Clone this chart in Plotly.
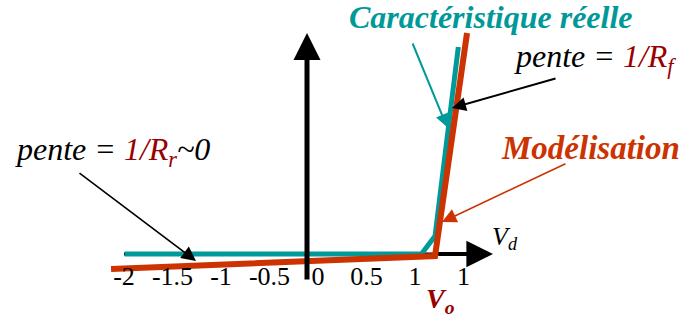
import plotly.graph_objects as go

# ---- data (x: Vd, y: Id in arbitrary units) ----
real_x = [-1.88, 1.18, 1.32, 1.56]      # caractéristique réelle
real_y = [0.0, 0.0, 0.36, 4.14]
model_x = [-2.02, 1.32, 1.65]           # modélisation
model_y = [-0.30, -0.04, 4.42]
tick_vals = [-2, -1.5, -1, -0.5, 0, 0.5, 1, 1.5]
tick_text = ["-2", "-1.5", "-1", "-0.5", "0", "0.5", "1", "1"]

# ---- styling / layout helpers ----
W, H = 694, 320
X0, Y0 = 307, 254      # pixel position of the origin
SX, SY = 97, 50        # pixels per unit
TEAL = "#009999"
ORANGE = "#CC3300"
DARKRED = "#990000"
FONT = "Liberation Serif"


def dx(px):
    return (px - X0) / SX


def dy(py):
    return (Y0 - py) / SY


def px_(px):
    return px / W


def py_(py):
    return 1 - py / H


fig = go.Figure()

# horizontal axis line under the curves
fig.add_trace(go.Scatter(x=[dx(124), dx(440)], y=[0, 0], mode="lines",
                         line=dict(color="black", width=3), hoverinfo="skip"))
fig.add_trace(go.Scatter(x=real_x, y=real_y, mode="lines",
                         line=dict(color=TEAL, width=5), hoverinfo="skip"))
fig.add_trace(go.Scatter(x=model_x, y=model_y, mode="lines",
                         line=dict(color=ORANGE, width=6), hoverinfo="skip"))

annotations = []


def arrow(tip, tail, color, width, size):
    annotations.append(dict(
        x=dx(tip[0]), y=dy(tip[1]), ax=dx(tail[0]), ay=dy(tail[1]),
        xref="x", yref="y", axref="x", ayref="y", text="",
        showarrow=True, arrowhead=2, arrowsize=size, arrowwidth=width,
        arrowcolor=color, standoff=0, startstandoff=0))


# axes arrows
arrow((307, 33), (307, 281), "black", 5, 1.08)
arrow((493, 254), (437, 254), "black", 4, 1.33)
# pointer arrows
arrow((447, 127), (412, 42), TEAL, 2, 1.3)
arrow((452, 108), (557, 78), "black", 2, 1.4)
arrow((442, 222), (567, 163), ORANGE, 1.6, 1.8)
arrow((196, 261), (78, 172), "black", 1.6, 1.8)


def label(text, cx, cy, size, color="black"):
    annotations.append(dict(
        x=px_(cx), y=py_(cy), xref="paper", yref="paper", text=text,
        showarrow=False, xanchor="center", yanchor="middle",
        font=dict(family=FONT, size=size, color=color)))


label("<b><i>Caractéristique réelle</i></b>", 491, 17, 32, TEAL)
label("<i>pente = </i><span style='color:%s'><i>1/R<sub>f</sub></i></span>" % DARKRED,
      595, 58, 32)
label("<b><i>Modélisation</i></b>", 590, 148, 33, ORANGE)
label("<i>pente = </i><span style='color:%s'><i>1/R<sub>r</sub></i></span><i>~0</i>" % DARKRED,
      112, 151, 32)
label("<i>V<sub>d</sub></i>", 505, 238, 26)
label("<b><i>V<sub>o</sub></i></b>", 440, 300, 28, DARKRED)

fig.update_layout(
    width=W, height=H,
    margin=dict(l=0, r=0, t=0, b=0),
    paper_bgcolor="white", plot_bgcolor="white",
    showlegend=False,
    font=dict(family=FONT),
    annotations=annotations,
    xaxis=dict(range=[-X0 / SX, (W - X0) / SX], showgrid=False, zeroline=False,
               showline=False, ticks="", tickvals=tick_vals, ticktext=tick_text,
               tickfont=dict(family=FONT, size=26, color="black"),
               anchor="free", position=(H - Y0) / H, ticklabelshift=11,
               ticklabelstandoff=4, fixedrange=True),
    yaxis=dict(range=[-(H - Y0) / SY, Y0 / SY], visible=False, fixedrange=True),
)

fig.write_html("out.html")
